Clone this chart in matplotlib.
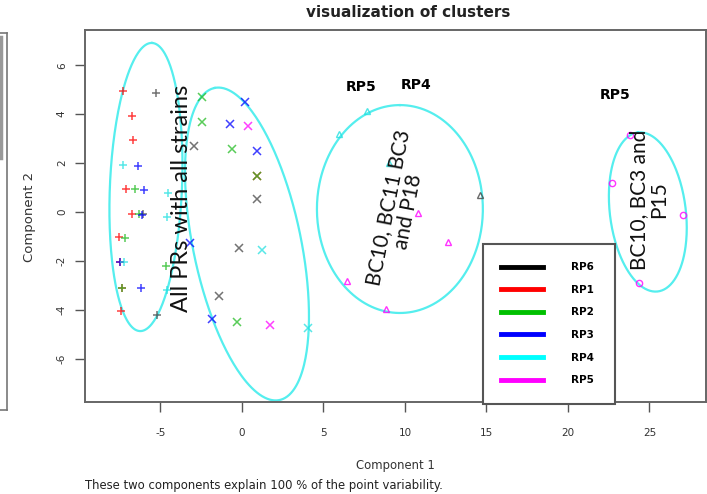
import numpy as np
import matplotlib
matplotlib.use("Agg")
import matplotlib.pyplot as plt
from matplotlib.lines import Line2D

plt.rcParams["axes.unicode_minus"] = False

# point coordinates (component 1, component 2)
comp1 = [-7.32, -5.28, -6.77, -6.71, -7.28, -6.40, -7.12, -6.56, -5.99, -4.52,
         -6.77, -6.30, -6.13, -6.10, -4.62, -7.53, -7.16, -7.48, -7.48, -7.22,
         -4.66, -7.34, -7.34, -6.20, -4.58, -7.44, -5.20,
         -2.43, 0.18, -2.45, -0.72, 0.35, -2.94, -0.63, 0.90, 0.90, 0.95,
         0.94, -3.19, -0.16, 1.23, -1.39, -1.86, -0.29, 1.72, 4.07,
         7.65, 5.97, 9.04, 14.60, 10.82, 12.62, 6.42, 8.83,
         23.80, 22.72, 27.04, 24.38]
comp2 = [4.96, 4.85, 3.93, 2.94, 1.92, 1.88, 0.93, 0.93, 0.90, 0.76,
         -0.08, -0.08, -0.11, -0.10, -0.19, -1.04, -1.05, -2.03, -2.03, -2.03,
         -2.21, -3.09, -3.09, -3.12, -3.19, -4.05, -4.21,
         4.69, 4.51, 3.69, 3.60, 3.52, 2.71, 2.58, 2.49, 1.47, 1.47,
         0.52, -1.28, -1.49, -1.57, -3.42, -4.38, -4.51, -4.62, -4.73,
         4.14, 3.19, 1.99, 0.70, -0.05, -1.21, -2.82, -3.98,
         3.15, 1.17, -0.12, -2.92]
cluster = [1] * 27 + [2] * 19 + [3] * 8 + [4] * 4
group = ["RP1", "RP6", "RP1", "RP1", "RP4", "RP3", "RP1", "RP2", "RP3", "RP4",
         "RP1", "RP2", "RP3", "RP6", "RP4", "RP1", "RP2", "RP3", "RP1", "RP4",
         "RP2", "RP2", "RP1", "RP3", "RP4", "RP1", "RP6",
         "RP2", "RP3", "RP2", "RP3", "RP5", "RP6", "RP2", "RP3", "RP2", "RP1",
         "RP6", "RP3", "RP6", "RP4", "RP6", "RP3", "RP2", "RP5", "RP4",
         "RP4", "RP4", "RP4", "RP6", "RP5", "RP5", "RP5", "RP5",
         "RP5", "RP5", "RP5", "RP5"]

legend_labels = ["RP6", "RP1", "RP2", "RP3", "RP4", "RP5"]
legend_colors = ["black", "red", "#00c000", "blue", "cyan", "magenta"]

# cluster ellipses: centre and two conjugate half axes
ell_cx = [-5.89, 0.31, 9.69, 24.9]
ell_cy = [1.02, -1.31, 0.12, 0.0]
ell_ux = [0.37, -1.99, 0.0, -0.61]
ell_uy = [5.89, 6.38, 4.25, 3.25]
ell_vx = [2.21, 3.24, 5.09, 2.31]
ell_vy = [-0.06, 0.45, 0.0, 0.19]

cluster_markers = {1: "+", 2: "x", 3: "^", 4: "o"}
point_colors = dict(zip(legend_labels, ["#444444", "red", "#22bb22", "blue", "#22e0e0", "magenta"]))

fig = plt.figure(figsize=(7.07, 4.94), dpi=100)
ax = fig.add_axes([0.1202, 0.1862, 0.8784, 0.7531])

# ellipses
t = np.linspace(0, 2 * np.pi, 300)
for cx, cy, ux, uy, vx, vy in zip(ell_cx, ell_cy, ell_ux, ell_uy, ell_vx, ell_vy):
    ax.plot(cx + np.cos(t) * ux + np.sin(t) * vx,
            cy + np.cos(t) * uy + np.sin(t) * vy,
            color="#55eeee", lw=1.6, zorder=1)

# points
c1 = np.array(comp1)
c2 = np.array(comp2)
cl = np.array(cluster)
gr = np.array(group)
for k, m in cluster_markers.items():
    for g in legend_labels:
        sel = (cl == k) & (gr == g)
        if not sel.any():
            continue
        if m in "+x":
            ax.plot(c1[sel], c2[sel], m, color=point_colors[g], ms=6, mew=1.1,
                    alpha=0.75, zorder=2)
        else:
            ax.plot(c1[sel], c2[sel], m, mfc="none", mec=point_colors[g],
                    ms=5 if m == "^" else 4.5, mew=1.0, alpha=0.8, zorder=2)

ax.set_xlim(-9.63, 28.47)
ax.set_ylim(-7.77, 7.44)
ax.set_xticks([-5, 0, 5, 10, 15, 20, 25])
ax.set_yticks([-6, -4, -2, 0, 2, 4, 6])
ax.tick_params(length=7, width=1, color="#555555", labelsize=7.5,
               labelcolor="#333333")
ax.tick_params(axis="x", pad=12)
ax.tick_params(axis="y", pad=6, labelrotation=90)
for lab in ax.get_yticklabels():
    lab.set_va("center")
for s in ax.spines.values():
    s.set_color("#666666")
    s.set_linewidth(1.4)

# annotations
note_font = dict(family=["Lato", "DejaVu Sans"], color="#111111")
ax.text(-3.7, 0.55, "All PRs with all strains", rotation=90, fontsize=17,
        ha="center", va="center", **note_font)
ax.text(9.6, 0.1, "BC10, BC11 BC3\nand P18", rotation=79, fontsize=15,
        ha="center", va="center", linespacing=1.0, **note_font)
ax.text(25.0, 0.5, "BC10, BC3 and\nP15", rotation=90, fontsize=15,
        ha="center", va="center", linespacing=1.0, **note_font)
ax.text(7.3, 5.1, "RP5", fontsize=10, fontweight="bold", ha="center", va="center")
ax.text(10.7, 5.2, "RP4", fontsize=10, fontweight="bold", ha="center", va="center")
ax.text(22.9, 4.8, "RP5", fontsize=10, fontweight="bold", ha="center", va="center")

handles = [Line2D([], [], color=c, lw=3.5) for c in legend_colors]
leg = ax.legend(handles, legend_labels, loc="lower left",
                bbox_to_anchor=(0.641, -0.004, 0.212, 0.1), mode="expand",
                borderaxespad=0, fancybox=False, framealpha=1,
                prop=dict(size=7.5, weight="bold"), handlelength=4,
                handletextpad=2.7, borderpad=1.75, labelspacing=1.21)
leg.get_frame().set_edgecolor("#555555")
leg.get_frame().set_linewidth(1.5)

fig.text(0.577, 0.975, "visualization of clusters", fontsize=11,
         fontweight="bold", ha="center", va="center", color="#222222")
fig.text(0.559, 0.057, "Component 1", fontsize=8.4, ha="center", va="center",
         color="#333333")
fig.text(0.042, 0.56, "Component 2", fontsize=9.5, ha="center", va="center",
         rotation=90, color="#333333")
fig.text(0.12, 0.018, "These two components explain 100 % of the point variability.",
         fontsize=8.4, ha="left", va="center", color="#222222")

# screenshot frame remnant on the left edge
fig.add_artist(Line2D([0.010, 0.010], [0.17, 0.933], color="#777777", lw=1.2))
fig.add_artist(Line2D([0.0, 0.010], [0.933, 0.933], color="#777777", lw=1.2))
fig.add_artist(Line2D([0.0, 0.010], [0.17, 0.17], color="#777777", lw=1.2))
fig.add_artist(Line2D([0.002, 0.002], [0.68, 0.925], color="#999999", lw=2.5))

fig.savefig("out.png", dpi=100)
